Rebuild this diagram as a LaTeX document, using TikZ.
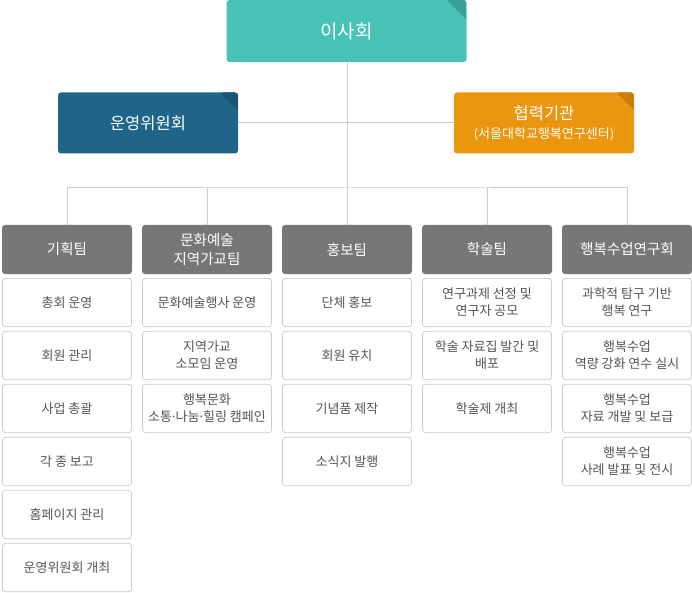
\documentclass[tikz,border=0pt]{standalone}
\usepackage{fontspec}
\setmainfont{Noto Sans CJK KR}
\newfontfamily\latinfont{Noto Sans}
\newcommand{\mdot}{{\latinfont ·}}
\begin{document}
\begin{tikzpicture}[x=1pt,y=-1pt,
  line/.style={draw=lineC,line width=1pt},
  topbox/.style={rounded corners=3pt,inner sep=0pt,text=white,align=center},
  hdr/.style={fill=hdrC,rounded corners=3pt,minimum width=130pt,minimum height=49pt,inner sep=0pt,text=white,font=\fontsize{14.5pt}{19.5pt}\selectfont,align=center},
  item/.style={draw=itemB,line width=0.8pt,fill=white,rounded corners=3pt,minimum width=129pt,minimum height=48.5pt,inner sep=0pt,text=itemT,font=\fontsize{13pt}{17pt}\selectfont,align=center},
  corner/.style 2 args={path picture={\fill[#1] (path picture bounding box.north east) -- ++(-#2,0pt) -- ++(#2,-#2) -- cycle;}}
]
\definecolor{lineC}{HTML}{CCCCCC}
\definecolor{hdrC}{HTML}{777777}
\definecolor{itemB}{HTML}{CCCCCC}
\definecolor{itemT}{HTML}{555555}
\definecolor{tealC}{HTML}{46C3B6}
\definecolor{tealD}{HTML}{3AA197}
\definecolor{blueC}{HTML}{1E6589}
\definecolor{blueD}{HTML}{1A5472}
\definecolor{orgC}{HTML}{EA960F}
\definecolor{orgD}{HTML}{C97D0B}
\useasboundingbox (0,0) rectangle (692,593);

% top level
\node[topbox,fill=tealC,minimum width=240pt,minimum height=62pt,corner={tealD}{20pt},font=\fontsize{19pt}{22pt}\selectfont] (board) at (346.5,31) {이사회};
\node[topbox,fill=blueC,minimum width=180pt,minimum height=61pt,corner={blueD}{18pt},font=\fontsize{16.5pt}{20pt}\selectfont] (com) at (148,123) {운영위원회};
\node[topbox,fill=orgC,minimum width=180pt,minimum height=61pt,corner={orgD}{18pt}] (coop) at (544,123) {{\fontsize{16.5pt}{20pt}\selectfont 협력기관}\\[6pt]{\fontsize{13pt}{15pt}\selectfont (서울대학교행복연구센터)}};

% team headers
\node[hdr] (t1) at (67,249.5) {기획팀};
\node[hdr] (t2) at (207,249.5) {문화예술\\지역가교팀};
\node[hdr] (t3) at (347,249.5) {홍보팀};
\node[hdr] (t4) at (487,249.5) {학술팀};
\node[hdr] (t5) at (627,249.5) {행복수업연구회};

% connectors
\coordinate (hub) at (347,188);
\draw[line] (com.east) -- (coop.west);
\draw[line] (board.south -| hub) -- (hub);
\draw[line] (t1.north) |- (hub) -| (t5.north);
\draw[line] (t2.north) -- (t2.north |- hub);
\draw[line] (t3.north) -- (hub);
\draw[line] (t4.north) -- (t4.north |- hub);

% items column 1
\node[item] (a1) at (67,302.5) {총회 운영};
\node[item] (a2) at (67,355.5) {회원 관리};
\node[item] (a3) at (67,408.5) {사업 총괄};
\node[item] (a4) at (67,461.5) {각 종 보고};
\node[item] (a5) at (67,514.5) {홈페이지 관리};
\node[item] (a6) at (67,567.5) {운영위원회 개최};
% column 2
\node[item] (b1) at (207,302.5) {문화예술행사 운영};
\node[item] (b2) at (207,355.5) {지역가교\\소모임 운영};
\node[item] (b3) at (207,408.5) {행복문화\\소통\mdot 나눔\mdot 힐링 캠페인};
% column 3
\node[item] (c1) at (347,302.5) {단체 홍보};
\node[item] (c2) at (347,355.5) {회원 유치};
\node[item] (c3) at (347,408.5) {기념품 제작};
\node[item] (c4) at (347,461.5) {소식지 발행};
% column 4
\node[item] (d1) at (487,302.5) {연구과제 선정 및\\연구자 공모};
\node[item] (d2) at (487,355.5) {학술 자료집 발간 및\\배포};
\node[item] (d3) at (487,408.5) {학술제 개최};
% column 5
\node[item] (e1) at (627,302.5) {과학적 탐구 기반\\행복 연구};
\node[item] (e2) at (627,355.5) {행복수업\\역량 강화 연수 실시};
\node[item] (e3) at (627,408.5) {행복수업\\자료 개발 및 보급};
\node[item] (e4) at (627,461.5) {행복수업\\사례 발표 및 전시};
\end{tikzpicture}
\end{document}
